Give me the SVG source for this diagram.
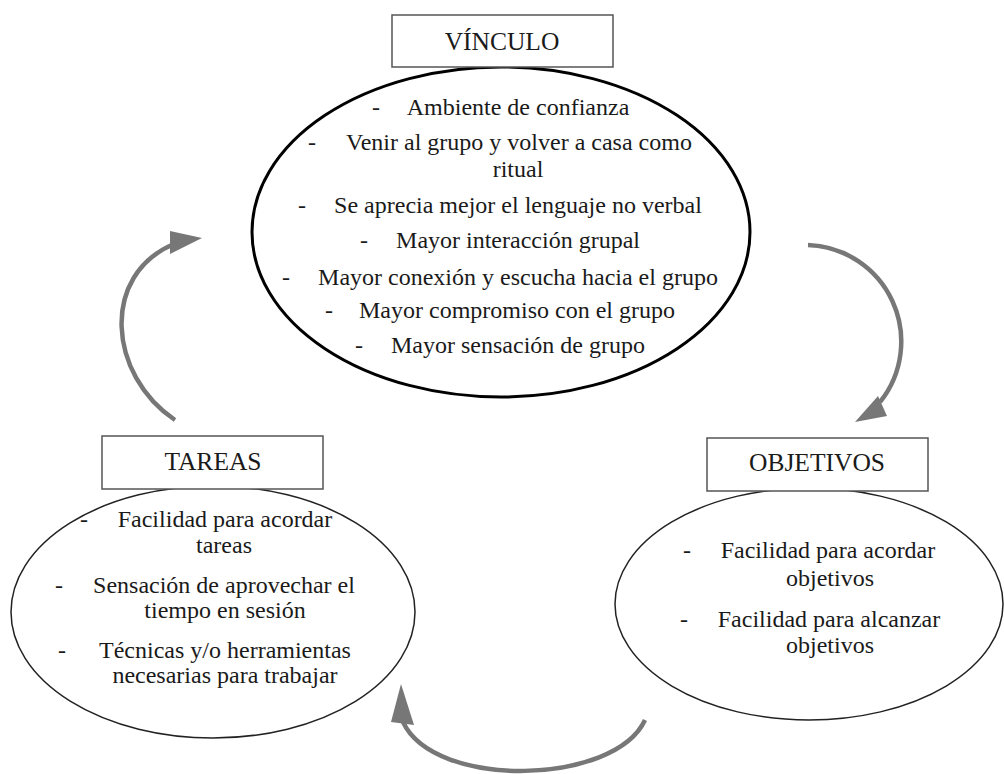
<svg xmlns="http://www.w3.org/2000/svg" width="1004" height="774" viewBox="0 0 1004 774" font-family="Liberation Serif, DejaVu Serif, serif">
<style>
.t{font-size:24px;fill:#1a1a1a}
.c{text-anchor:middle}
.h{font-size:25.5px;fill:#1a1a1a;text-anchor:middle}
.box{fill:#fff;stroke:#555;stroke-width:1.5}
.arc{fill:none;stroke:#777;stroke-width:4.5}
.head{fill:#777}
</style>
<rect width="1004" height="774" fill="#fff"/>
<g id="vinculo">
<ellipse cx="501" cy="232" rx="249" ry="165" fill="none" stroke="#000" stroke-width="3"/>
<rect class="box" x="392" y="15" width="221" height="52"/>
<text class="h" x="502" y="50" font-family="Liberation Serif, serif">VÍNCULO</text>
<text class="t" x="372" y="115">-</text><text class="t c" x="518" y="115">Ambiente de confianza</text>
<text class="t" x="308" y="150">-</text><text class="t c" x="519" y="150">Venir al grupo y volver a casa como</text>
<text class="t c" x="518" y="177">ritual</text>
<text class="t" x="298" y="213">-</text><text class="t c" x="518" y="213">Se aprecia mejor el lenguaje no verbal</text>
<text class="t" x="360" y="248">-</text><text class="t c" x="518" y="248">Mayor interacción grupal</text>
<text class="t" x="282" y="285">-</text><text class="t c" x="518" y="285">Mayor conexión y escucha hacia el grupo</text>
<text class="t" x="325" y="318">-</text><text class="t c" x="517" y="318">Mayor compromiso con el grupo</text>
<text class="t" x="355" y="353">-</text><text class="t c" x="518" y="353">Mayor sensación de grupo</text>
</g>
<g id="tareas">
<ellipse cx="213" cy="612" rx="202" ry="126" fill="none" stroke="#222" stroke-width="1.5"/>
<rect class="box" x="102" y="436" width="221" height="53"/>
<text class="h" x="213" y="470">TAREAS</text>
<text class="t" x="80" y="527">-</text><text class="t c" x="225" y="527">Facilidad para acordar</text>
<text class="t c" x="224" y="553">tareas</text>
<text class="t" x="55" y="593">-</text><text class="t c" x="224" y="593">Sensación de aprovechar el</text>
<text class="t c" x="225" y="618">tiempo en sesión</text>
<text class="t" x="58" y="658">-</text><text class="t c" x="225" y="658">Técnicas y/o herramientas</text>
<text class="t c" x="225" y="683">necesarias para trabajar</text>
</g>
<g id="objetivos">
<ellipse cx="809" cy="604" rx="194" ry="116" fill="none" stroke="#222" stroke-width="1.5"/>
<rect class="box" x="707" y="438" width="221" height="53"/>
<text class="h" x="817" y="471">OBJETIVOS</text>
<text class="t" x="683" y="558">-</text><text class="t c" x="828" y="558">Facilidad para acordar</text>
<text class="t c" x="830" y="586">objetivos</text>
<text class="t" x="680" y="627">-</text><text class="t c" x="829" y="627">Facilidad para alcanzar</text>
<text class="t c" x="830" y="653">objetivos</text>
</g>
<g id="connectors">
<path class="arc" d="M808,245 A96.6,96.6 0 0 1 880,402"/>
<polygon class="head" points="855,422 878,396 887,416"/>
<path class="arc" d="M645,720 C615,785 435,790 403,722"/>
<polygon class="head" points="401,684 391,722 414,725"/>
<path class="arc" d="M175,420 C108,375 100,275 174,244"/>
<polygon class="head" points="202,238 170,231 170,254"/>
</g>
</svg>
